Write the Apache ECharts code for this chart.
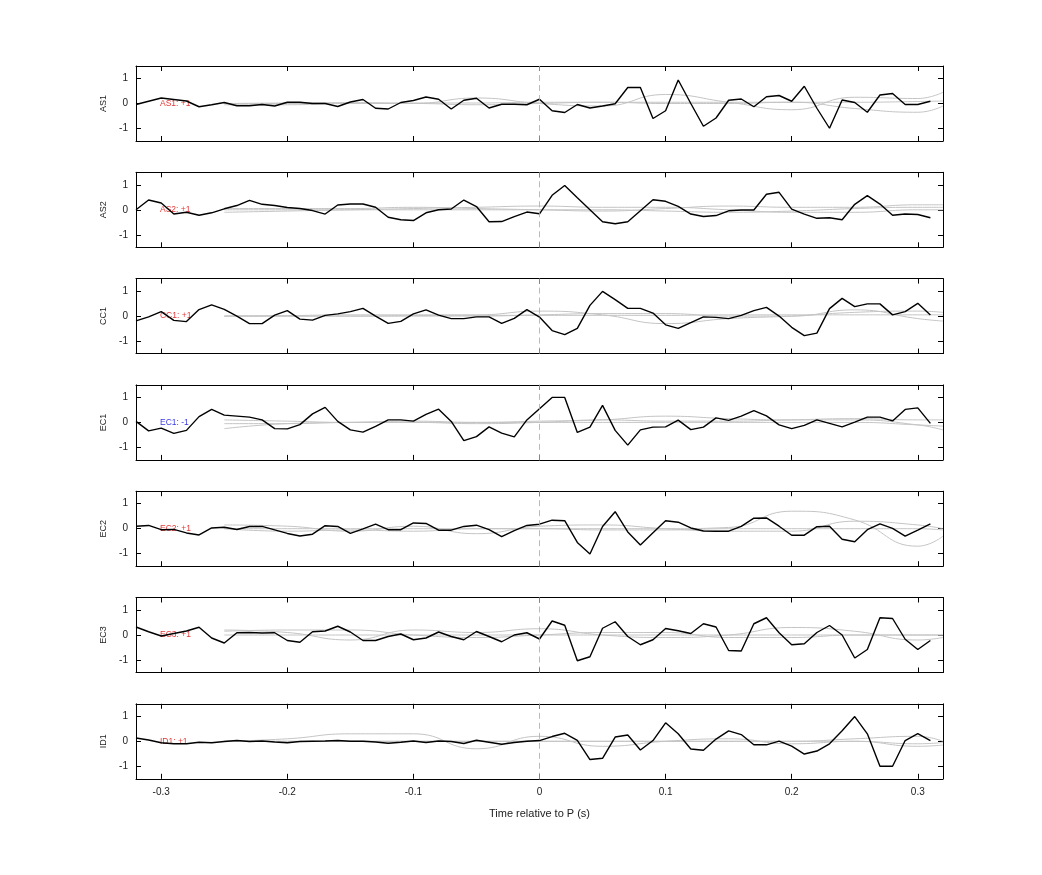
<!DOCTYPE html>
<html><head><meta charset="utf-8">
<script src="https://cdn.jsdelivr.net/npm/echarts@6/dist/echarts.min.js"></script>
<style>html,body{margin:0;padding:0;background:#fff}#c{width:1042px;height:875px}</style>
</head><body><div id="c"></div>
<script>
const stations = ['AS1','AS2','CC1','EC1','EC2','EC3','ID1'];
const polarity = ['+1','+1','+1','-1','+1','+1','+1'];
const xTicks = [-0.3,-0.2,-0.1,0,0.1,0.2,0.3];
const yTicks = [-1,0,1];
// black traces sampled every 0.01 s from -0.32 to 0.31
const AS1 = [-0.04,0.09,0.22,0.16,0.10,-0.13,-0.05,0.04,-0.09,-0.09,-0.04,-0.10,0.05,0.05,0,0,-0.12,0.06,0.16,-0.19,-0.22,0.04,0.12,0.26,0.17,-0.22,0.13,0.21,-0.18,-0.03,-0.03,-0.05,0.17,-0.29,-0.36,-0.04,-0.18,-0.10,-0.01,0.64,0.64,-0.60,-0.29,0.94,0,-0.91,-0.58,0.13,0.18,-0.13,0.27,0.32,0.09,0.69,-0.19,-0.99,0.14,0.04,-0.35,0.34,0.40,-0.04,-0.04,0.09];
const AS2 = [0,0.39,0.27,-0.17,-0.10,-0.22,-0.12,0.04,0.17,0.38,0.22,0.17,0.09,0.05,-0.03,-0.17,0.19,0.23,0.23,0.10,-0.30,-0.40,-0.43,-0.12,0,0.03,0.39,0.13,-0.48,-0.47,-0.27,-0.09,-0.16,0.58,0.97,0.48,0,-0.48,-0.56,-0.48,-0.04,0.40,0.34,0.14,-0.17,-0.27,-0.23,-0.04,-0.01,-0.01,0.62,0.70,0.03,-0.17,-0.34,-0.32,-0.40,0.22,0.57,0.23,-0.22,-0.17,-0.19,-0.32];
const CC1 = [-0.19,-0.03,0.18,-0.17,-0.22,0.26,0.45,0.27,0,-0.30,-0.30,0.04,0.22,-0.12,-0.16,0.03,0.09,0.18,0.31,0,-0.29,-0.21,0.09,0.25,0.04,-0.10,-0.10,-0.03,-0.03,-0.29,-0.09,0.26,-0.04,-0.58,-0.74,-0.49,0.43,0.99,0.66,0.31,0.31,0.12,-0.35,-0.49,-0.26,-0.03,-0.05,-0.10,0.03,0.22,0.35,0,-0.45,-0.78,-0.68,0.30,0.71,0.38,0.49,0.49,0.05,0.18,0.51,0.04];
const EC1 = [0.04,-0.34,-0.23,-0.44,-0.32,0.23,0.52,0.29,0.25,0.21,0.10,-0.25,-0.26,-0.09,0.34,0.60,0.04,-0.30,-0.39,-0.16,0.10,0.10,0.05,0.32,0.53,0.04,-0.73,-0.57,-0.18,-0.43,-0.58,0.10,0.55,1.0,1.0,-0.40,-0.19,0.68,-0.32,-0.91,-0.30,-0.19,-0.18,0.09,-0.29,-0.19,0.18,0.08,0.25,0.47,0.26,-0.10,-0.25,-0.12,0.10,-0.04,-0.18,0.01,0.21,0.21,0.06,0.52,0.58,-0.04];
const EC2 = [0.10,0.13,-0.04,-0.03,-0.17,-0.25,0.03,0.06,-0.03,0.09,0.09,-0.05,-0.19,-0.29,-0.22,0.12,0.09,-0.19,-0.01,0.18,-0.04,-0.04,0.23,0.21,-0.06,-0.06,0.09,0.14,-0.04,-0.32,-0.08,0.13,0.18,0.34,0.32,-0.55,-1.01,0.09,0.68,-0.13,-0.65,-0.16,0.32,0.26,0.03,-0.09,-0.10,-0.10,0.09,0.42,0.43,0.10,-0.26,-0.26,0.08,0.10,-0.42,-0.52,-0.04,0.19,0.01,-0.30,-0.06,0.19];
const EC3 = [0.32,0.13,-0.04,0.06,0.16,0.31,-0.12,-0.32,0.09,0.10,0.08,0.09,-0.22,-0.29,0.13,0.16,0.35,0.12,-0.22,-0.22,-0.06,0.04,-0.19,-0.12,0.12,-0.06,-0.19,0.14,-0.06,-0.27,0,0.09,-0.16,0.56,0.39,-1.03,-0.87,0.27,0.53,-0.06,-0.39,-0.19,0.26,0.17,0.06,0.45,0.32,-0.62,-0.64,0.45,0.69,0.09,-0.39,-0.35,0.10,0.38,0,-0.92,-0.58,0.69,0.66,-0.17,-0.58,-0.22];
const ID1 = [0.13,0.05,-0.06,-0.10,-0.10,-0.04,-0.06,-0.01,0.03,-0.01,0.01,-0.03,-0.06,-0.01,0,0.01,0.03,0,0,-0.03,-0.08,-0.04,0.01,-0.05,0.01,-0.01,-0.09,0.04,-0.04,-0.12,-0.05,0,0.03,0.19,0.32,0.04,-0.73,-0.68,0.17,0.25,-0.35,0.03,0.74,0.30,-0.31,-0.36,0.09,0.42,0.27,-0.14,-0.14,0.01,-0.19,-0.51,-0.39,-0.10,0.42,0.99,0.30,-1.0,-1.0,0.03,0.31,0.03];
const blackTraces = [AS1,AS2,CC1,EC1,EC2,EC3,ID1];
// grey comparison traces, sampled at greyX
const greyX = [-0.25,-0.2,-0.15,-0.1,-0.05,0,0.05,0.1,0.15,0.2,0.25,0.3,0.32];
const greyAS1 = [[0,0,0.02,0,0.22,0,-0.1,0.36,0.05,-0.25,0.25,0.2,0.45],[-0.05,-0.05,0,0,-0.05,0,0.05,0,0,0.05,-0.2,-0.35,-0.1],[0,0.02,0.03,0.02,0.02,0.05,0.05,0.05,0.05,0.05,0.05,0.08,0.1]];
const greyAS2 = [[-0.1,-0.05,0,0.05,0.1,0.15,0.1,0.1,0,-0.1,-0.1,0,0],[0.05,0.05,0.05,0.1,0.05,0,-0.05,0.05,0.15,0.1,0.1,0.2,0.2],[0,0,0,0,0,0,0,-0.05,-0.1,-0.05,0.05,0.1,0.1]];
const greyCC1 = [[0,0.02,0.05,0.05,0.05,0.2,0.05,-0.3,-0.1,0,0.15,0.2,0.15],[0,0,0,0,0,0.05,0.1,0.1,0,0,0.25,-0.1,-0.2],[0,0,0,0.02,0.03,0.03,0.03,0.03,0.05,0.05,0.05,0.05,0.05]];
const greyEC1 = [[-0.25,-0.05,0,0.05,0,0.05,0.1,0.25,0.15,0.1,0.1,-0.1,-0.3],[0.1,0.05,0,0,-0.05,0,0.1,0.05,0.05,0.1,0.15,0.1,0.1],[-0.05,-0.05,0,0,0,0,0,0,0,0,0,-0.1,-0.15]];
const greyEC2 = [[0,0,0,0,0,0,0,0,0.05,0.7,0.35,-0.7,-0.3],[0.15,0.1,-0.1,0.1,-0.2,0.1,0.15,0,-0.1,-0.1,0.3,0.15,0],[0,-0.1,-0.05,-0.1,0,0,-0.05,-0.05,0,0,0,0,-0.05]];
const greyEC3 = [[0.2,0.1,-0.2,0.2,0.1,0.25,0,-0.1,0,0.3,0.15,-0.2,-0.1],[0.15,0.2,0.2,0,-0.1,0,0.1,0.1,-0.1,-0.1,0,0,0],[0,0,0,0,0,0,0,0,0,0,0,0,0]];
const greyID1 = [[0,0.1,0.3,0.3,-0.3,0.2,-0.2,0,0.1,-0.1,0,-0.1,-0.05],[0,0,0,0,0,0,0,0,0,0,0,-0.2,-0.15],[0,0,0,0,0,0,0,0,0,0,0.1,0.2,0]];
const greyTraces = [greyAS1,greyAS2,greyCC1,greyEC1,greyEC2,greyEC3,greyID1];

const chart = echarts.init(document.getElementById('c'));
const grids=[], xAxes=[], yAxes=[], series=[];
const tickStyle = {color:'#000',width:1};
stations.forEach((st,i)=>{
  const top = 66 + i*106.3;
  grids.push({left:136,right:99,top:top,height:75});
  const last = i===stations.length-1;
  xAxes.push({type:'value',gridIndex:i,min:-0.32,max:0.32,position:'bottom',
    axisLine:{show:true,onZero:false,lineStyle:{color:'#000'}},
    axisTick:{show:true,inside:true,length:5,customValues:xTicks,lineStyle:tickStyle},
    axisLabel:{show:last,customValues:xTicks,color:'#222',fontSize:10,fontFamily:'Liberation Sans',margin:8},
    splitLine:{show:false},
    name:last?'Time relative to P (s)':'',nameLocation:'middle',nameGap:30,
    nameTextStyle:{color:'#222',fontSize:11,fontFamily:'Liberation Sans'}});
  xAxes.push({type:'value',gridIndex:i,min:-0.32,max:0.32,position:'top',
    axisLine:{show:true,onZero:false,lineStyle:{color:'#000'}},
    axisTick:{show:true,inside:true,length:5,customValues:xTicks,lineStyle:tickStyle},
    axisLabel:{show:false},splitLine:{show:false}});
  yAxes.push({type:'value',gridIndex:i,min:-1.5,max:1.5,position:'left',
    axisLine:{show:true,onZero:false,lineStyle:{color:'#000'}},
    axisTick:{show:true,inside:true,length:5,customValues:yTicks,lineStyle:tickStyle},
    axisLabel:{customValues:yTicks,color:'#222',fontSize:10,fontFamily:'Liberation Sans',margin:8},
    splitLine:{show:false},
    name:st,nameLocation:'middle',nameGap:28,nameRotate:90,
    nameTextStyle:{color:'#222',fontSize:9,fontFamily:'Liberation Sans'}});
  yAxes.push({type:'value',gridIndex:i,min:-1.5,max:1.5,position:'right',
    axisLine:{show:true,onZero:false,lineStyle:{color:'#000'}},
    axisTick:{show:true,inside:true,length:5,customValues:yTicks,lineStyle:tickStyle},
    axisLabel:{show:false},splitLine:{show:false}});
  greyTraces[i].forEach(g=>{
    series.push({type:'line',xAxisIndex:2*i,yAxisIndex:2*i,smooth:0.5,symbol:'none',silent:true,
      lineStyle:{color:'#c4c4c4',width:1},data:greyX.map((x,k)=>[x,g[k]])});
  });
  series.push({type:'line',xAxisIndex:2*i,yAxisIndex:2*i,symbol:'none',silent:true,
    lineStyle:{color:'#000',width:1.4},
    data:blackTraces[i].map((v,k)=>[-0.32+k*0.01,v]),
    markLine:{silent:true,symbol:'none',label:{show:false},
      lineStyle:{color:'#c89a9a',type:[6,4],width:0.8},data:[{xAxis:0}]}});
  series.push({type:'scatter',xAxisIndex:2*i,yAxisIndex:2*i,symbolSize:0,silent:true,z:1,
    data:[[-0.301,0]],
    label:{show:true,position:'right',distance:0,formatter:st+': '+polarity[i],
      color:polarity[i]==='-1'?'#0000dd':'#dd0000',fontSize:8.5,fontFamily:'Liberation Sans'}});
});
chart.setOption({animation:false,grid:grids,xAxis:xAxes,yAxis:yAxes,series:series});
</script></body></html>
